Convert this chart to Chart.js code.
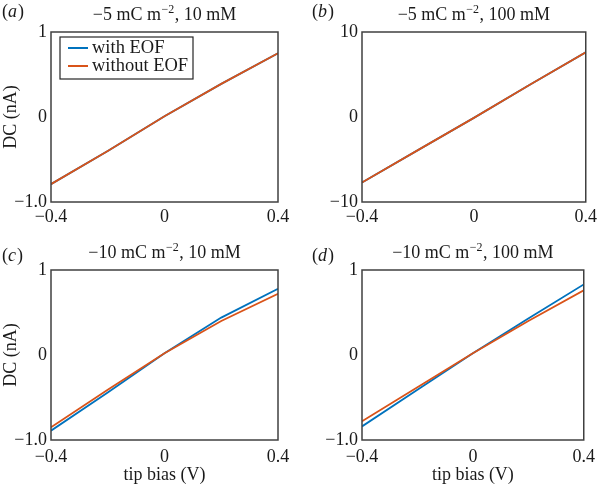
<!DOCTYPE html>
<html>
<head>
<meta charset="utf-8">
<script src="https://cdn.jsdelivr.net/npm/chart.js@4"></script>
<style>
html,body{margin:0;padding:0;background:#fff;width:601px;height:487px;overflow:hidden;}
.p{position:absolute;}
canvas{display:block;}
</style>
</head>
<body>
<div class="p" style="left:0;top:0"><canvas id="ca" width="300" height="240"></canvas></div>
<div class="p" style="left:300px;top:0"><canvas id="cb" width="301" height="240"></canvas></div>
<div class="p" style="left:0;top:240px"><canvas id="cc" width="300" height="247"></canvas></div>
<div class="p" style="left:300px;top:240px"><canvas id="cd" width="301" height="247"></canvas></div>
<script>
// ---- data ----
const biasV = [-0.4, -0.2, 0, 0.2, 0.4];
const aWithEOF    = [-0.79, -0.40, 0.01, 0.39, 0.75];
const aWithoutEOF = [-0.79, -0.40, 0.01, 0.39, 0.75];
const bWithEOF    = [-7.7, -3.9, -0.1, 3.8, 7.6];
const bWithoutEOF = [-7.7, -3.9, -0.1, 3.8, 7.6];
const cWithEOF    = [-0.89, -0.44, 0.02, 0.44, 0.78];
const cWithoutEOF = [-0.85, -0.41, 0.02, 0.40, 0.72];
const dWithEOF    = [-0.84, -0.41, 0.02, 0.43, 0.83];
const dWithoutEOF = [-0.78, -0.38, 0.02, 0.40, 0.76];

const seriesNames = ['with EOF', 'without EOF'];
const xTickValues = [-0.4, 0, 0.4];
const xTickLabels = ['\u22120.4', '0', '0.4'];
const yTickValuesSmall = [-1, 0, 1];
const yTickLabelsSmall = ['\u22121.0', '0', '1'];
const yTickValuesLarge = [-10, 0, 10];
const yTickLabelsLarge = ['\u221210', '0', '10'];
const panelLetters = ['a', 'b', 'c', 'd'];
const titleCharge = ['\u22125', '\u22125', '\u221210', '\u221210'];
const titleConc = ['10', '100', '10', '100'];
const yAxisTitle = 'DC (nA)';
const xAxisTitle = 'tip bias (V)';

const BLUE = '#0072BD', ORANGE = '#D95319', TXT = '#1a1a1a';
const FAM = '"Liberation Serif", "Times New Roman", serif';
const FS = 18;

const decor = {
  id: 'decor',
  afterDraw(chart, args, o) {
    const ctx = chart.ctx, ca = chart.chartArea;
    ctx.save();
    ctx.strokeStyle = '#404040';
    ctx.lineWidth = 1.5;
    ctx.strokeRect(ca.left, ca.top, ca.right - ca.left, ca.bottom - ca.top);
    // title
    const big = FS + 'px ' + FAM, small = '12px ' + FAM;
    const p1 = o.charge + ' mC m', sup = '\u22122', p2 = ', ' + o.conc + ' mM';
    ctx.font = big;
    const w1 = ctx.measureText(p1).width, w3 = ctx.measureText(p2).width;
    ctx.font = small;
    const w2 = ctx.measureText(sup).width;
    let x = (ca.left + ca.right) / 2 - (w1 + w2 + w3 + 1) / 2;
    const y = ca.top - 17;
    ctx.fillStyle = TXT;
    ctx.textBaseline = 'middle';
    ctx.textAlign = 'left';
    ctx.font = big; ctx.fillText(p1, x, y); x += w1;
    ctx.font = small; ctx.fillText(sup, x + 0.5, y - 5); x += w2 + 1;
    ctx.font = big; ctx.fillText(p2, x, y);
    // panel letter
    let lx = o.letterX;
    const ly = ca.top - o.letterDy;
    ctx.font = big; ctx.fillText('(', lx, ly); lx += ctx.measureText('(').width;
    ctx.font = 'italic ' + big; ctx.fillText(o.letter, lx, ly); lx += ctx.measureText(o.letter).width + 1;
    ctx.font = big; ctx.fillText(')', lx, ly);
    // legend
    if (o.legend) {
      const bx = ca.left + 9, by = ca.top + 5, bw = 133, bh = 42;
      ctx.fillStyle = '#fff';
      ctx.fillRect(bx, by, bw, bh);
      ctx.strokeStyle = '#262626';
      ctx.lineWidth = 1.2;
      ctx.strokeRect(bx, by, bw, bh);
      const cols = [BLUE, ORANGE];
      seriesNames.forEach((n, i) => {
        const yy = by + 11 + i * 18;
        ctx.strokeStyle = cols[i];
        ctx.lineWidth = 2;
        ctx.beginPath(); ctx.moveTo(bx + 8, yy); ctx.lineTo(bx + 28, yy); ctx.stroke();
        ctx.fillStyle = TXT;
        ctx.font = '18.5px ' + FAM;
        ctx.fillText(n, bx + 32, yy);
      });
    }
    ctx.restore();
  }
};

function makePanel(c) {
  const ds = (label, data, color, order) => ({
    label, data: biasV.map((x, i) => ({x, y: data[i]})),
    borderColor: color, backgroundColor: color, borderWidth: 1.8,
    pointRadius: 0, tension: 0, fill: false, order
  });
  new Chart(document.getElementById(c.id), {
    type: 'line',
    data: { datasets: [ds(seriesNames[0], c.withData, BLUE, 2), ds(seriesNames[1], c.withoutData, ORANGE, 1)] },
    plugins: [decor],
    options: {
      responsive: false, animation: false, devicePixelRatio: 1,
      layout: { padding: { left: 0, right: c.w - c.right, top: c.top, bottom: 0 } },
      plugins: {
        legend: { display: false }, tooltip: { enabled: false }, title: { display: false },
        decor: { charge: c.charge, conc: c.conc, letter: c.letter, letterX: c.letterX, letterDy: c.letterDy, legend: c.legend }
      },
      scales: {
        x: {
          type: 'linear', min: -0.4, max: 0.4,
          grid: { display: false, drawTicks: false }, border: { display: false },
          afterBuildTicks: s => { s.ticks = xTickValues.map(v => ({ value: v })); },
          ticks: { padding: c.xPad, color: TXT, font: { family: FAM, size: FS }, maxRotation: 0, autoSkip: false,
                   callback: (v, i) => xTickLabels[i] },
          title: { display: c.xTitle, text: xAxisTitle, color: TXT, font: { family: FAM, size: FS }, padding: { top: 0, bottom: 1 } },
          afterFit: s => { s.height = c.h - c.bottom; }
        },
        y: {
          type: 'linear', min: c.yVals[0], max: c.yVals[2],
          grid: { display: false, drawTicks: false }, border: { display: false },
          afterBuildTicks: s => { s.ticks = c.yVals.map(v => ({ value: v })); },
          ticks: { padding: 4, color: TXT, font: { family: FAM, size: FS }, autoSkip: false,
                   callback: (v, i) => c.yLabels[i] },
          title: { display: c.yTitle, text: yAxisTitle, color: TXT, font: { family: FAM, size: FS }, padding: { top: 0, bottom: 0 } },
          afterFit: s => { s.width = c.left; }
        }
      }
    }
  });
}

makePanel({ id: 'ca', w: 300, h: 240, left: 51, right: 278, top: 32, bottom: 202, withData: aWithEOF, withoutData: aWithoutEOF,
  yVals: yTickValuesSmall, yLabels: yTickLabelsSmall, yTitle: true, xTitle: false, xPad: 4,
  charge: titleCharge[0], conc: titleConc[0], letter: panelLetters[0], letterX: 2, letterDy: 20, legend: true });
makePanel({ id: 'cb', w: 301, h: 240, left: 62, right: 288, top: 32, bottom: 202, withData: bWithEOF, withoutData: bWithoutEOF,
  yVals: yTickValuesLarge, yLabels: yTickLabelsLarge, yTitle: false, xTitle: false, xPad: 4,
  charge: titleCharge[1], conc: titleConc[1], letter: panelLetters[1], letterX: 12, letterDy: 20, legend: false });
makePanel({ id: 'cc', w: 300, h: 247, left: 51, right: 278, top: 30, bottom: 200, withData: cWithEOF, withoutData: cWithoutEOF,
  yVals: yTickValuesSmall, yLabels: yTickLabelsSmall, yTitle: true, xTitle: true, xPad: 6,
  charge: titleCharge[2], conc: titleConc[2], letter: panelLetters[2], letterX: 2, letterDy: 14, legend: false });
makePanel({ id: 'cd', w: 301, h: 247, left: 62, right: 288, top: 30, bottom: 200, withData: dWithEOF, withoutData: dWithoutEOF,
  yVals: yTickValuesSmall, yLabels: yTickLabelsSmall, yTitle: false, xTitle: true, xPad: 6,
  charge: titleCharge[3], conc: titleConc[3], letter: panelLetters[3], letterX: 12, letterDy: 14, legend: false });
</script>
</body>
</html>
